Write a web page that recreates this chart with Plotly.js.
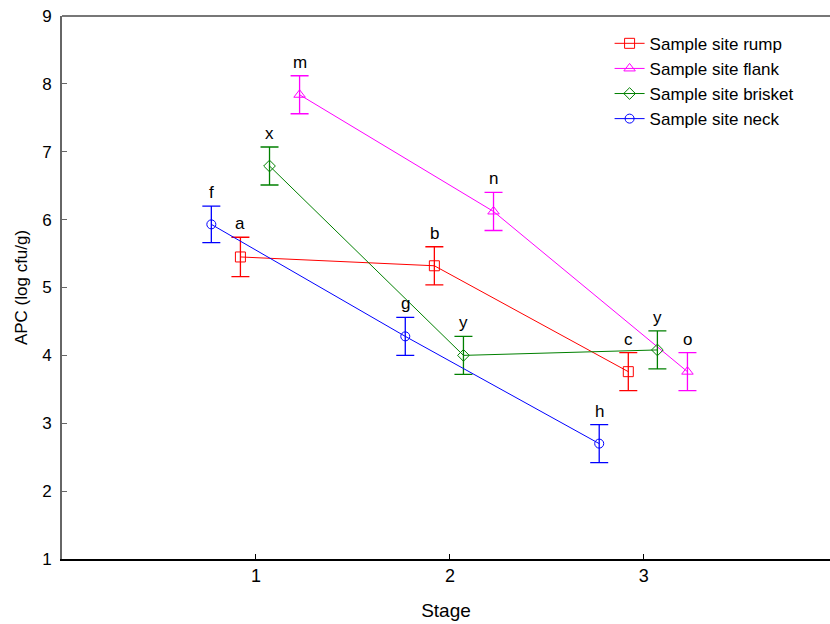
<!DOCTYPE html>
<html>
<head>
<meta charset="utf-8">
<script src="https://cdn.plot.ly/plotly-3.0.1.min.js"></script>
<style>html,body{margin:0;padding:0;overflow:hidden;background:#fff}</style>
</head>
<body>
<div id="chart" style="width:830px;height:624px"></div>
<script>
const stages = [1, 2, 3];
const seriesNames = ["Sample site rump", "Sample site flank", "Sample site brisket", "Sample site neck"];
const rumpValues = [5.45, 5.32, 3.76];
const rumpErrors = [0.29, 0.28, 0.28];
const rumpLetters = ["a", "b", "c"];
const flankValues = [7.84, 6.12, 3.76];
const flankErrors = [0.28, 0.28, 0.28];
const flankLetters = ["m", "n", "o"];
const brisketValues = [6.79, 4.00, 4.08];
const brisketErrors = [0.28, 0.28, 0.28];
const brisketLetters = ["x", "y", "y"];
const neckValues = [5.93, 4.28, 2.70];
const neckErrors = [0.27, 0.28, 0.28];
const neckLetters = ["f", "g", "h"];
const yTicks = [1, 2, 3, 4, 5, 6, 7, 8, 9];

const styles = [
  {color: "#ff0000", symbol: "square-open", size: 10, offset: -0.08},
  {color: "#ff00ff", symbol: "triangle-up-open", size: 10, offset: 0.225},
  {color: "#008000", symbol: "diamond-open", size: 9, offset: 0.07},
  {color: "#0000ff", symbol: "circle-open", size: 9, offset: -0.23}
];
const values = [rumpValues, flankValues, brisketValues, neckValues];
const errors = [rumpErrors, flankErrors, brisketErrors, neckErrors];
const letters = [rumpLetters, flankLetters, brisketLetters, neckLetters];

const font = "Liberation Sans, Arial, sans-serif";
const narrow = "Liberation Sans Narrow, Arial Narrow, Liberation Sans, Arial, sans-serif";

const traces = [];
const annotations = [];
values.forEach((vals, i) => {
  const st = styles[i];
  const xs = stages.map(s => s + st.offset);
  traces.push({
    type: "scatter", mode: "lines+markers", name: seriesNames[i],
    x: xs, y: vals,
    line: {color: st.color, width: 1},
    marker: {symbol: st.symbol, size: st.size, color: st.color, line: {width: 1, color: st.color}},
    error_y: {type: "data", array: errors[i], visible: true, color: st.color, thickness: 1.3, width: 9}
  });
  vals.forEach((v, j) => {
    annotations.push({
      x: xs[j], y: v + errors[i][j], xref: "x", yref: "y",
      text: letters[i][j], showarrow: false, yanchor: "bottom", yshift: 2,
      font: {family: font, size: 17, color: "#000"}
    });
  });
});

const layout = {
  width: 830, height: 624,
  margin: {l: 62, r: 0, t: 16, b: 65},
  paper_bgcolor: "#fff", plot_bgcolor: "#fff",
  showlegend: true,
  legend: {x: 0.713, y: 0.982, xanchor: "left", yanchor: "top",
    font: {family: font, size: 17, color: "#000"}, bgcolor: "rgba(0,0,0,0)", tracegroupgap: 0, itemwidth: 30},
  xaxis: {range: [0, 3.96], tickvals: stages, ticktext: stages.map(String),
    ticks: "inside", ticklen: 5, tickcolor: "#000", showgrid: false, zeroline: false,
    showline: true, linecolor: "#000", linewidth: 1.5, mirror: false,
    tickfont: {family: narrow, size: 18, color: "#000"},
    title: {text: "Stage", font: {family: narrow, size: 19, color: "#000"}, standoff: 18}},
  yaxis: {range: [1, 9], tickvals: yTicks, ticks: "inside", ticklen: 5, tickcolor: "#666",
    showgrid: false, zeroline: false, showline: true, linecolor: "#666", linewidth: 2,
    ticklabelstandoff: 5,
    tickfont: {family: font, size: 17, color: "#000"},
    title: {text: "APC (log cfu/g)", font: {family: font, size: 17, color: "#000"}, standoff: 10}},
  annotations: annotations,
  shapes: [{type: "line", xref: "paper", yref: "paper", x0: 0, x1: 1, y0: 1, y1: 1,
    line: {color: "#777", width: 2}}]
};

Plotly.newPlot("chart", traces, layout, {staticPlot: true, displayModeBar: false});
</script>
</body>
</html>
